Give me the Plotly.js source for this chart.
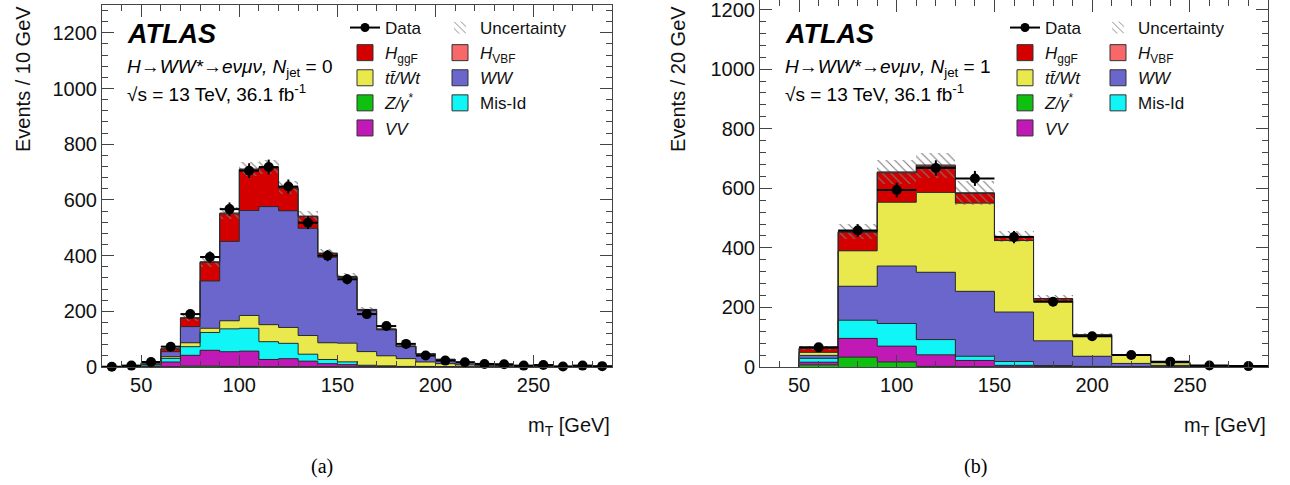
<!DOCTYPE html>
<html><head><meta charset="utf-8">
<script src="https://cdn.plot.ly/plotly-3.0.1.min.js"></script>
<style>body{margin:0;background:#fff}#chart{width:1290px;height:485px}</style>
</head><body><div id="chart"></div>
<script>
// ---------- Panel (a): N_jet = 0, 10 GeV bins ----------
const centersA = [35,45,55,65,75,85,95,105,115,125,135,145,155,165,175,185,195,205,215,225,235,245,255,265,275,285];
const dataA    = [1,5,18,73,190,395,567,705,718,648,518,400,315,190,147,83,41,23,17,11,10,5,7,2,5,3];
const zA   = [0,0,0.5,1,3,3,2,2,1,1,1,1,0.5,0.3,0.2,0.1,0,0,0,0,0,0,0,0,0,0];
const vvA  = [0,0.2,2,17,39,57,53,55,26,29,20,11,8,3,2,1,1,0.5,0.3,0.2,0.1,0.1,0,0,0,0];
const misA = [0,0.5,5,13,31,64,82,82,64,55,25,15,10,3,2,1,1,0.5,0.3,0.2,0.1,0.1,0.1,0,0,0];
const ttA  = [0,0.3,2,6,14,15,29,46,61,57,67,60,67,49,36,28,16,11,7,4,3,2,1.5,1,0.7,0.5];
const wwA  = [0,0.5,5,18,58,170,285,377,424,419,385,307,236,147,93,43,28,15,9,5,3,2,1.5,1,0.8,0.5];
const ggfA = [0,0.1,1,10,31,67,99,146,138,81,42,14,3,4,3,2,1,0.5,0.3,0.2,0.1,0.1,0,0,0,0];
const vbfA = [0,0,0,0.5,1,2,3,3,3,3,2,1,1,0.5,0.3,0.2,0.1,0.1,0,0,0,0,0,0,0,0];
const uncA = [0.3,1,2,5,10,18,22,24,25,22,18,14,11,8,6,4,3,2,1.5,1,1,0.5,0.5,0.4,0.3,0.3];

// ---------- Panel (b): N_jet = 1, 20 GeV bins ----------
const centersB = [60,80,100,120,140,160,180,200,220,240,260,280];
const dataB    = [66,458,594,668,633,436,219,103,40,18,5,3];
const zB   = [7,33,17,2,1,0.5,0,0,0,0,0,0];
const vvB  = [9,63,53,39,21,5,2,1,0.5,0.2,0,0];
const misB = [13,61,76,51,14,13,3,1,0.5,0.2,0.1,0];
const wwB  = [10,114,193,226,218,166,83,34,11,5,1.5,1];
const ttB  = [10,119,214,268,296,240,133,70,28,9,1.5,1];
const ggfB = [13,62,99,88,33,12,8,2,1,0.5,0.2,0.1];
const vbfB = [1,3,3,4,2,2,1,0.5,0.3,0.1,0,0];
const uncB = [7,25,40,42,40,18,12,6,3,2,1,0.5];

const binWidthA = 10, binWidthB = 20;
const tickLabelsX = ['50','100','150','200','250'];
const tickValsX = [50,100,150,200,250];

const C = {ggf:'#d40000', vbf:'#f86868', tt:'#e9e94d', ww:'#6a66cc', z:'#10c010', mis:'#10f5f5', vv:'#c019b6'};
const NAMES = {
  data:'Data', unc:'Uncertainty',
  ggf:'<i>H</i><sub>ggF</sub>', vbf:'<i>H</i><sub>VBF</sub>',
  tt:'<i>tt\u0304/Wt</i>', ww:'<i>WW</i>',
  z:'<i>Z/\u03b3</i><sup>*</sup>', mis:'Mis-Id', vv:'<i>VV</i>'
};

function stepTrace(centers, w, cum, xa, ya){
  const xs=[centers[0]-w/2], ys=[0];
  for(let i=0;i<centers.length;i++){ xs.push(centers[i]-w/2); ys.push(cum[i]); }
  xs.push(centers[centers.length-1]+w/2); ys.push(cum[cum.length-1]);
  xs.push(centers[centers.length-1]+w/2); ys.push(0);
  return {type:'scatter', mode:'lines', x:xs, y:ys, xaxis:xa, yaxis:ya,
    line:{shape:'hv', color:'#2a2a2a', width:1}, showlegend:false, hoverinfo:'skip'};
}

function buildPanel(centers, w, data, layers, unc, xa, ya, legA, legB){
  const traces=[]; const steps=[];
  let cum = centers.map(()=>0);
  layers.forEach(([key, arr])=>{
    traces.push({type:'bar', x:centers, y:arr, width:w, xaxis:xa, yaxis:ya, name:NAMES[key],
      marker:{color:C[key], line:{width:0}}, showlegend:false, hoverinfo:'skip'});
    cum = cum.map((c,i)=>c+arr[i]);
    steps.push(stepTrace(centers, w, cum.slice(), xa, ya));
  });
  const total = cum;
  traces.push({type:'bar', x:centers, y:unc.map(u=>2*u), base:total.map((t,i)=>t-unc[i]), width:w,
    xaxis:xa, yaxis:ya, name:NAMES.unc, legend:legB, legendrank:1,
    marker:{color:'rgba(255,255,255,0)', line:{width:0},
      pattern:{shape:'\\', fillmode:'replace', fgcolor:'#7a7a7a', bgcolor:'rgba(255,255,255,0)', size:6, solidity:0.18}},
    hoverinfo:'skip'});
  steps.forEach(s=>traces.push(s));
  traces.push({type:'scatter', mode:'markers', x:centers, y:data, xaxis:xa, yaxis:ya, name:'Data',
    marker:{color:'#000', size:10}, cliponaxis:false, showlegend:false,
    error_y:{type:'data', array:data.map(Math.sqrt), thickness:2, width:0, color:'#000'},
    error_x:{type:'constant', value:w/2, thickness:2, width:0, color:'#000'}});
  const leg = (key, legend, rank)=>({type:'scatter', mode:'markers', x:[null], y:[null], xaxis:xa, yaxis:ya,
    name:NAMES[key], legend:legend, legendrank:rank,
    marker:{symbol:'square', size:16, color:C[key], line:{color:'#333', width:1}}});
  traces.push({type:'scatter', mode:'lines+markers', x:[null], y:[null], xaxis:xa, yaxis:ya, name:NAMES.data,
    legend:legA, legendrank:1, line:{color:'#000', width:2}, marker:{color:'#000', size:9}});
  traces.push(leg('ggf', legA, 2)); traces.push(leg('tt', legA, 3));
  traces.push(leg('z', legA, 4));   traces.push(leg('vv', legA, 5));
  traces.push(leg('vbf', legB, 2)); traces.push(leg('ww', legB, 3));
  traces.push(leg('mis', legB, 4));
  return traces;
}

const tracesA = buildPanel(centersA, binWidthA, dataA,
  [['z',zA],['vv',vvA],['mis',misA],['tt',ttA],['ww',wwA],['ggf',ggfA],['vbf',vbfA]], uncA, 'x','y','legend','legend2');
const tracesB = buildPanel(centersB, binWidthB, dataB,
  [['z',zB],['vv',vvB],['mis',misB],['ww',wwB],['tt',ttB],['ggf',ggfB],['vbf',vbfB]], uncB, 'x2','y2','legend3','legend4');

const axisCommon = {showline:true, linecolor:'#444', linewidth:1, mirror:'allticks', ticks:'inside', ticklen:12,
  tickwidth:1, tickcolor:'#444', showgrid:false, zeroline:false, automargin:false, fixedrange:true,
  ticklabeloverflow:'allow', tickfont:{size:20, color:'#111'}};
const xStyle = Object.assign({}, axisCommon, {range:[30,290], tickmode:'array', tickvals:tickValsX, ticktext:tickLabelsX,
  minor:{ticks:'inside', ticklen:6, dtick:10, tick0:0, tickcolor:'#444', showgrid:false}});
const yStyle = Object.assign({}, axisCommon, {dtick:200, tick0:0,
  minor:{ticks:'inside', ticklen:6, dtick:40, tick0:0, tickcolor:'#444', showgrid:false}});

const W=1290, H=485;
const px = v=>v/W, py = v=>1-v/H;
const legStyle = (x,y)=>({x:px(x), y:py(y), xanchor:'left', yanchor:'top', bgcolor:'rgba(0,0,0,0)',
  borderwidth:0, font:{size:17, color:'#111'}, traceorder:'normal', itemclick:false, itemdoubleclick:false});

const ann = [];
function panelText(x0, sub){
  ann.push({text:'<b><i>ATLAS</i></b>', x:px(x0), y:py(34), xref:'paper', yref:'paper', xanchor:'left', yanchor:'middle',
    showarrow:false, font:{size:27, color:'#000'}});
  ann.push({text:'<i>H\u2192WW*\u2192e\u03bd\u03bc\u03bd, N</i><sub>jet</sub> = '+sub, x:px(x0), y:py(68), xref:'paper', yref:'paper',
    xanchor:'left', yanchor:'middle', showarrow:false, font:{size:19, color:'#000'}});
  ann.push({text:'\u221as = 13 TeV, 36.1 fb<sup>-1</sup>', x:px(x0), y:py(93), xref:'paper', yref:'paper',
    xanchor:'left', yanchor:'middle', showarrow:false, font:{size:19, color:'#000'}});
}
panelText(125, '0');
panelText(783, '1');
ann.push({text:'Events / 10 GeV', textangle:-90, x:px(23), y:py(4), xref:'paper', yref:'paper', xanchor:'center', yanchor:'top',
  showarrow:false, font:{size:20, color:'#111'}});
ann.push({text:'Events / 20 GeV', textangle:-90, x:px(678), y:py(4), xref:'paper', yref:'paper', xanchor:'center', yanchor:'top',
  showarrow:false, font:{size:20, color:'#111'}});
ann.push({text:'m<sub>T</sub> [GeV]', x:px(612), y:py(426), xref:'paper', yref:'paper', xanchor:'right', yanchor:'middle',
  showarrow:false, font:{size:20, color:'#111'}});
ann.push({text:'m<sub>T</sub> [GeV]', x:px(1268), y:py(426), xref:'paper', yref:'paper', xanchor:'right', yanchor:'middle',
  showarrow:false, font:{size:20, color:'#111'}});
ann.push({text:'(a)', x:px(322), y:py(466), xref:'paper', yref:'paper', xanchor:'center', yanchor:'middle',
  showarrow:false, font:{size:20, color:'#000', family:'Liberation Serif, Times New Roman, serif'}});
ann.push({text:'(b)', x:px(975), y:py(466), xref:'paper', yref:'paper', xanchor:'center', yanchor:'middle',
  showarrow:false, font:{size:20, color:'#000', family:'Liberation Serif, Times New Roman, serif'}});

const layout = {
  width:W, height:H, margin:{l:0,r:0,t:0,b:0},
  paper_bgcolor:'#fff', plot_bgcolor:'#fff',
  font:{family:'Liberation Sans, Arial, Helvetica, sans-serif', size:20, color:'#111'},
  barmode:'stack', bargap:0, showlegend:true, hovermode:false,
  xaxis:Object.assign({}, xStyle, {domain:[px(102), px(612)], anchor:'y'}),
  yaxis:Object.assign({}, yStyle, {domain:[1-367/H, 1-5/H], range:[0,1300], anchor:'x'}),
  xaxis2:Object.assign({}, xStyle, {domain:[px(760), px(1268)], anchor:'y2'}),
  yaxis2:Object.assign({}, yStyle, {domain:[1-367/H, 1], range:[0,1232], anchor:'x2'}),
  legend:legStyle(345,10), legend2:legStyle(440,10),
  legend3:legStyle(1005,10), legend4:legStyle(1098,10),
  annotations:ann
};

Plotly.newPlot('chart', tracesA.concat(tracesB), layout, {staticPlot:true, displayModeBar:false});
</script>
</body></html>
